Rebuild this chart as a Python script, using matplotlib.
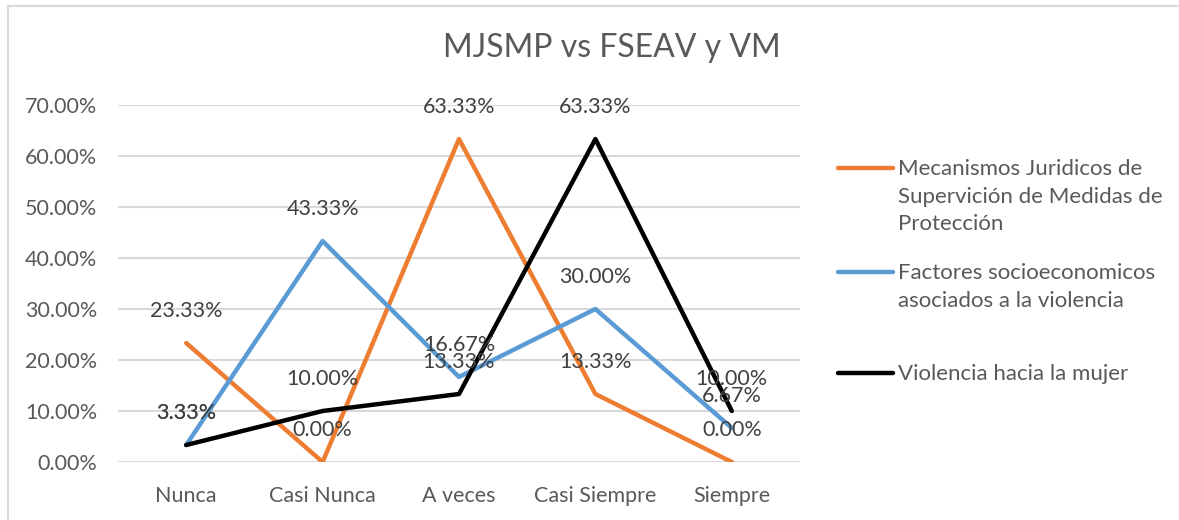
import matplotlib
matplotlib.use("Agg")
import matplotlib.pyplot as plt
from matplotlib.lines import Line2D
from matplotlib.patches import Rectangle
from matplotlib.ticker import FuncFormatter

# =========================================================
# DATA
# =========================================================
categories = ["Nunca", "Casi Nunca", "A veces", "Casi Siempre", "Siempre"]
mecanismos = [0.2333, 0.0, 0.6333, 0.1333, 0.0]
factores = [0.0333, 0.4333, 0.1667, 0.30, 0.0667]
violencia = [0.0333, 0.10, 0.1333, 0.6333, 0.10]

series_names = [
    "Mecanismos Juridicos de\nSupervición de Medidas de\nProtección",
    "Factores socioeconomicos\nasociados a la violencia",
    "Violencia hacia la mujer",
]
series_values = [mecanismos, factores, violencia]
series_colors = ["#ED7D31", "#5B9BD5", "#000000"]

TEXT = "#595959"
FS = 15.5
plt.rcParams["font.family"] = ["Lato", "DejaVu Sans"]

# =========================================================
# FIGURE
# =========================================================
W, H = 1179, 520
fig = plt.figure(figsize=(W / 100, H / 100), dpi=100)
ax = fig.add_axes([118 / W, 1 - 462 / H, (800 - 118) / W, (462 - 105) / H])

# outer chart frame
fig.add_artist(Rectangle((8 / W, -0.1), 1.2, 1 - 6 / H + 0.1,
                         transform=fig.transFigure, fill=False,
                         edgecolor="#D9D9D9", linewidth=1.5))

x = list(range(len(categories)))
for vals, col in zip(series_values, series_colors):
    ax.plot(x, vals, color=col, linewidth=3.2, solid_capstyle="round",
            solid_joinstyle="round", zorder=3)

# data labels (overlaps are as in the original chart)
for vals in series_values:
    for xi, v in zip(x, vals):
        ax.annotate(f"{v * 100:.2f}%", (xi, v), xytext=(0, 23),
                    textcoords="offset points", ha="center", va="center",
                    fontsize=FS, color="#404040", zorder=5)

ax.set_xlim(-0.5, 4.5)
ax.set_ylim(0, 0.7)
ax.set_yticks([i / 10 for i in range(8)])
ax.yaxis.set_major_formatter(FuncFormatter(lambda v, p: f"{v * 100:.2f}%"))
ax.set_xticks(x)
ax.set_xticklabels(categories)
ax.tick_params(axis="both", length=0, labelsize=FS, colors=TEXT)
ax.tick_params(axis="x", pad=17)
ax.tick_params(axis="y", pad=15)
ax.grid(axis="y", color="#D9D9D9", linewidth=1.5)
ax.set_axisbelow(True)
for s in ax.spines.values():
    s.set_visible(False)

fig.text(612 / W, 1 - 48 / H, "MJSMP vs FSEAV y VM", ha="center",
         va="center", fontsize=23, color=TEXT)

# =========================================================
# LEGEND (drawn by hand to match layout)
# =========================================================
legend_y = [168, 272, 373]
for name, col, ly in zip(series_names, series_colors, legend_y):
    fig.add_artist(Line2D([838 / W, 893 / W], [1 - ly / H, 1 - ly / H],
                          transform=fig.transFigure, color=col,
                          linewidth=3.2, solid_capstyle="round"))
    fig.text(898 / W, 1 - (ly - 9) / H, name, ha="left", va="top",
             fontsize=16, color=TEXT, linespacing=1.48)

plt.savefig("out.png", dpi=100)
